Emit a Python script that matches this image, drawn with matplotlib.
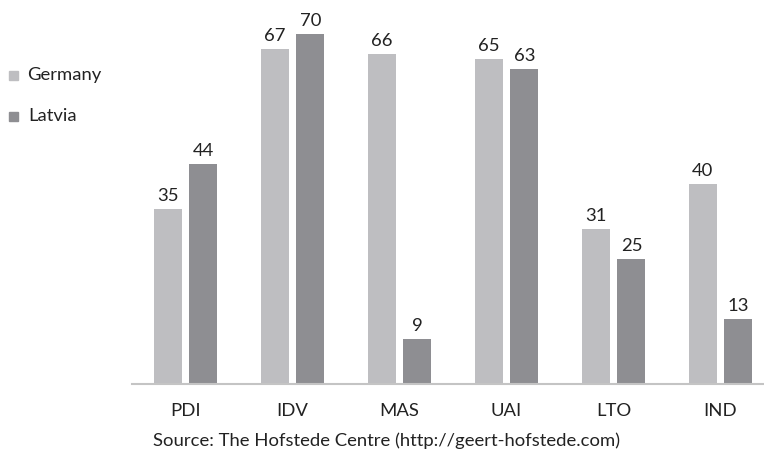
import matplotlib
matplotlib.use("Agg")
import matplotlib.pyplot as plt
import numpy as np

categories = ["PDI", "IDV", "MAS", "UAI", "LTO", "IND"]
germany = [35, 67, 66, 65, 31, 40]
latvia = [44, 70, 9, 63, 25, 13]
series_names = ["Germany", "Latvia"]
source_text = "Source: The Hofstede Centre (http://geert-hofstede.com)"

c_germany = "#bebec1"
c_latvia = "#8e8e92"
text_color = "#222222"
fs = 13.3

plt.rcParams["font.family"] = ["Lato", "DejaVu Sans"]

fig = plt.figure(figsize=(7.64, 4.53), dpi=100)
ax = fig.add_axes([132 / 764, (453 - 384) / 453, 1 - 132 / 764, (384 - 34) / 453])

x = np.arange(len(categories))
w = 0.262
off = 0.168
bg = ax.bar(x - off, germany, w, color=c_germany)
bl = ax.bar(x + off, latvia, w, color=c_latvia)

for bars, vals in ((bg, germany), (bl, latvia)):
    for b, v in zip(bars, vals):
        ax.text(b.get_x() + b.get_width() / 2, v + 1.0, str(v), ha="center",
                va="bottom", fontsize=fs, color=text_color)

ax.set_xlim(-0.5, 5.5 - 10 / 107)
ax.set_ylim(0, 70)
for s in ("top", "right", "left"):
    ax.spines[s].set_visible(False)
ax.spines["bottom"].set_color("#c4c4c4")
ax.spines["bottom"].set_linewidth(1.5)
ax.set_yticks([])
ax.set_xticks(x)
ax.set_xticklabels(categories, fontsize=fs, color=text_color)
ax.tick_params(axis="x", length=0, pad=14)

# legend drawn as squares with labels in the left margin
for name, col, yy, tx in ((series_names[0], c_germany, 75, 27), (series_names[1], c_latvia, 116, 28)):
    fig.patches.append(plt.Rectangle((9 / 764, (453 - yy - 4.5) / 453), 9 / 764, 9 / 453,
                                     transform=fig.transFigure, color=col))
    fig.text(tx / 764, (453 - yy) / 453, name, fontsize=fs, color=text_color,
             va="center", ha="left")

fig.text(387 / 764, (453 - 441) / 453, source_text, fontsize=fs, color=text_color,
         ha="center", va="center")

fig.savefig("out.png", dpi=100)
